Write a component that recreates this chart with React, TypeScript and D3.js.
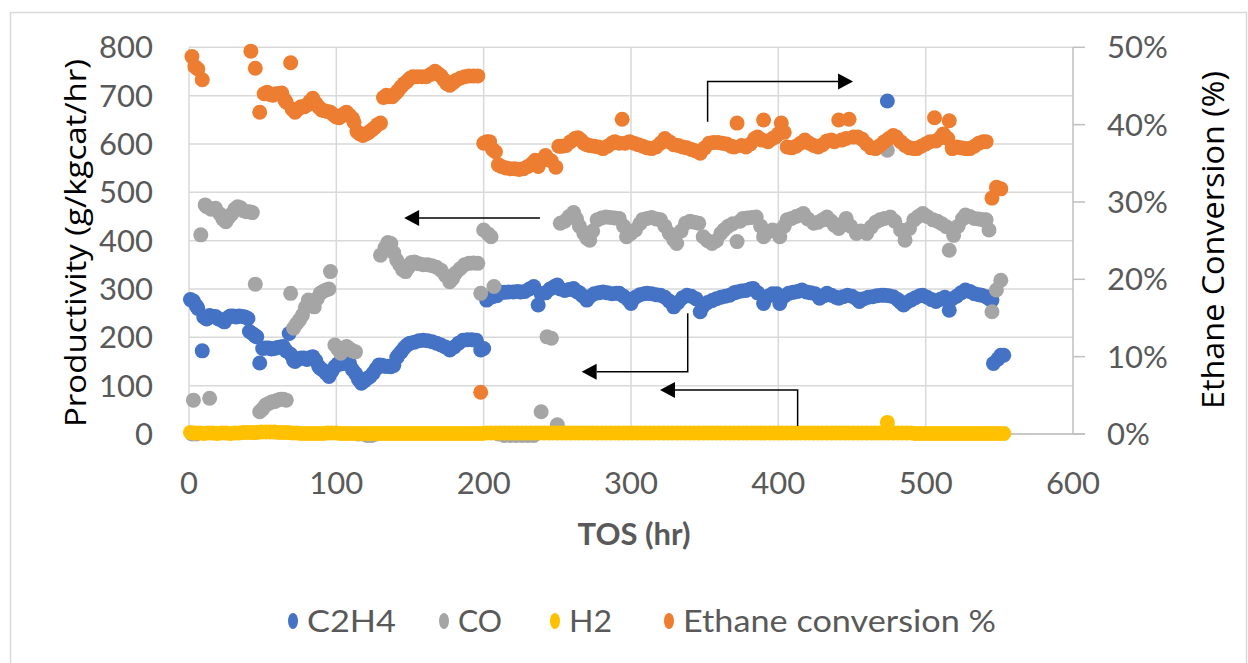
import React from "react";
import * as d3 from "d3";

const X_TICKS = [0, 100, 200, 300, 400, 500, 600];
const Y_TICKS = [0, 100, 200, 300, 400, 500, 600, 700, 800];
const Y2_TICKS = [0, 0.1, 0.2, 0.3, 0.4, 0.5];
const SERIES_NAMES = ["C2H4", "CO", "H2", "Ethane conversion %"];
const SERIES_COLORS = ["#4472C4", "#A5A5A5", "#FFC000", "#ED7D31"];

const C2H4: [number, number][] = [
  [1,278],[3,275],[5,265],[6,260],[9,172],[10,242],[12,238],[14,245],[16,243],[18,243],[20,238],[22,236],[24,232],[26,240],[28,244],[30,244],[32,242],[34,244],[36,243],[38,242],[40,239],[41,212],[43,208],[45,203],[46,201],[48,147],[50,177],[52,178],[54,178],[56,176],[58,177],[60,179],[62,180],[64,181],[66,172],[68,208],[69,165],[71,152],[72,150],[74,155],[76,157],[78,157],[80,154],[82,158],[84,160],[86,152],[88,140],[89,136],[91,132],[93,126],[95,119],[97,130],[99,139],[101,145],[103,145],[105,146],[107,147],[109,146],[111,133],[113,125],[115,113],[117,105],[119,110],[121,115],[123,119],[125,126],[127,135],[129,143],[131,142],[133,140],[135,140],[137,139],[139,142],[141,158],[142,163],[144,170],[146,178],[148,184],[150,188],[153,190],[156,193],[159,194],[162,193],[165,191],[168,188],[171,184],[174,180],[177,174],[180,180],[183,188],[186,194],[189,195],[192,195],[195,194],[198,174],
  [200,177],[202,277],[204,282],[206,284],[209,286],[211,294],[214,293],[217,294],[220,294],[223,295],[225,294],[228,295],[231,300],[234,305],[237,267],[239,290],[242,292],[245,300],[248,305],[250,308],[252,300],[255,297],[258,299],[261,301],[263,295],[265,292],[267,286],[270,277],[272,284],[275,290],[278,292],[281,294],[284,292],[287,290],[290,291],[292,291],[295,285],[298,278],[300,270],[303,283],[306,288],[309,290],[311,291],[314,290],[317,288],[320,287],[323,283],[326,275],[329,263],[332,272],[335,282],[338,287],[341,285],[344,280],[347,253],[349,265],[352,272],[355,276],[358,280],[361,283],[364,285],[367,287],[370,292],[372,294],[375,296],[378,297],[381,300],[383,301],[386,292],[390,270],[393,285],[396,290],[399,290],[401,270],[404,285],[407,291],[410,293],[413,295],[416,298],[419,294],[422,292],[425,290],[428,281],[431,286],[433,291],[436,287],[439,283],[441,281],[444,284],[447,287],[450,285],[453,280],[455,274],[458,280],[461,283],[464,284],[467,286],[470,287],[472,287],[474,689],[475,286],[478,284],[481,278],[483,272],[485,267],[487,272],[490,277],[493,282],[496,286],[498,287],[501,283],[504,278],[507,274],[510,279],[513,283],[516,256],[518,280],[521,285],[524,292],[527,298],[530,295],[533,290],[536,288],[538,287],[541,284],[543,280],[545,277],[546,146],[549,155],[551,163],[553,163]
];

const CO: [number, number][] = [
  [2,0],[3,70],[5,0],[8,412],[11,474],[12,470],[14,74],[15,465],[18,467],[21,455],[23,445],[25,439],[27,448],[29,455],[31,465],[33,470],[35,468],[37,462],[39,460],[41,460],[43,458],[45,310],[48,46],[50,52],[52,60],[54,63],[56,66],[58,67],[60,70],[62,72],[64,72],[66,70],[69,291],[71,219],[73,228],[75,236],[77,246],[79,262],[81,277],[83,268],[85,263],[87,280],[89,291],[91,295],[93,298],[95,300],[96,336],[99,184],[101,176],[103,167],[105,178],[107,181],[109,176],[111,172],[113,170],[115,0],[118,0],[121,-3],[124,-3],[127,0],[130,370],[133,385],[135,396],[137,394],[139,375],[141,360],[143,350],[145,340],[147,336],[149,345],[151,355],[153,356],[156,352],[159,350],[162,350],[165,348],[168,345],[171,339],[174,328],[177,315],[179,322],[181,333],[184,342],[187,350],[190,353],[193,354],[196,353],[198,291],[200,422],[203,414],[205,408],[207,305],[210,0],[214,-3],[218,-3],[222,-3],[226,-3],[230,-3],[234,-3],[239,46],[243,201],[246,198],[250,19],
  [252,436],[255,440],[258,450],[261,458],[263,445],[265,430],[268,415],[270,405],[272,401],[274,420],[277,443],[280,447],[283,449],[286,448],[289,447],[292,446],[295,430],[297,408],[300,415],[303,422],[306,435],[308,444],[311,446],[314,448],[317,445],[320,443],[323,430],[326,415],[329,402],[331,394],[334,420],[337,436],[340,440],[343,438],[346,436],[349,408],[352,400],[355,394],[358,400],[361,415],[363,422],[366,430],[369,435],[372,398],[374,440],[376,446],[379,447],[382,448],[385,449],[388,430],[390,408],[393,418],[396,422],[399,420],[401,408],[404,430],[406,443],[409,446],[412,450],[415,453],[417,456],[420,445],[424,436],[427,438],[430,443],[433,449],[436,440],[438,432],[441,425],[444,436],[446,446],[449,430],[453,415],[456,420],[460,415],[463,428],[466,438],[469,443],[472,446],[474,587],[476,449],[479,440],[483,422],[486,401],[489,425],[492,443],[495,450],[498,456],[501,450],[505,443],[508,440],[511,435],[514,429],[516,380],[519,411],[522,430],[525,445],[527,453],[530,450],[533,446],[536,445],[539,443],[541,443],[543,422],[545,253],[548,298],[551,318]
];

const H2: [number, number][] = [
  [1,3],[4,2],[7,2],[10,1],[13,2],[16,2],[19,1],[22,2],[25,2],[28,1],[31,2],[34,2],[37,3],[40,3],[43,3],[46,3],[49,4],[52,4],[55,4],[58,4],[61,3],[64,3],[67,3],[70,2],[73,2],[76,1],[79,1],[82,1],[85,1],[88,1],[91,1],[94,2],[97,2],[100,2],[103,1],[106,1],[109,1],[112,1],[115,1],[118,1],[121,1],[124,1],[127,1],[130,1],[133,1],[136,1],[139,1],[142,1],[145,1],[148,1],[151,1],[154,1],[157,1],[160,1],[163,1],[166,1],[169,1],[172,1],[175,1],[178,1],[181,1],[184,1],[187,1],[190,1],[193,1],[196,1],[199,1],[202,2],[205,2],[208,2],[211,2],[214,2],[217,2],[220,2],[223,2],[226,2],[229,2],[232,2],[235,2],[238,2],[241,2],[244,2],[247,2],[250,2],[253,2],[256,2],[259,2],[262,2],[265,2],[268,2],[271,2],[274,2],[277,2],[280,2],[283,2],[286,2],[289,2],[292,2],[295,2],[298,2],[301,2],[304,2],[307,2],[310,2],[313,2],[316,2],[319,2],[322,2],[325,2],[328,2],[331,2],[334,2],[337,2],[340,2],[343,2],[346,2],[349,2],[352,2],[355,2],[358,2],[361,2],[364,2],[367,2],[370,2],[373,2],[376,2],[379,2],[382,2],[385,2],[388,2],[391,2],[394,2],[397,2],[400,2],[403,2],[406,2],[409,2],[412,2],[415,2],[418,2],[421,2],[424,2],[427,2],[430,2],[433,2],[436,2],[439,2],[442,2],[445,2],[448,2],[451,2],[454,2],[457,2],[460,2],[463,2],[466,2],[469,2],[472,2],[474,24],[475,2],[478,2],[481,2],[484,2],[487,2],[490,2],[493,1],[496,1],[499,1],[502,1],[505,1],[508,1],[511,1],[514,1],[517,1],[520,1],[523,1],[526,1],[529,1],[532,1],[535,1],[538,1],[541,1],[544,1],[547,1],[550,1],[553,1]
];

const ETHANE: [number, number][] = [
  [2,48.8],[4,47.5],[6,47.2],[9,45.8],[42,49.5],[45,47.3],[48,41.6],[51,44.0],[53,44.2],[55,43.9],[57,43.8],[59,44.0],[61,44.0],[63,44.1],[65,43.2],[66,42.9],[69,48.0],[70,42.0],[72,41.6],[74,42.0],[76,42.3],[78,42.3],[80,42.5],[82,43.0],[84,43.4],[86,42.8],[88,42.3],[90,41.9],[92,41.8],[94,41.7],[96,41.6],[98,41.3],[100,41.0],[102,40.9],[104,41.2],[106,41.5],[107,41.6],[109,41.2],[111,40.8],[112,40.3],[114,39.1],[116,38.8],[118,38.6],[120,38.8],[122,39.0],[124,39.3],[126,39.6],[128,40.0],[130,40.2],[132,43.5],[134,43.8],[136,43.6],[138,43.6],[140,44.0],[142,44.4],[144,44.9],[146,45.3],[148,45.6],[150,46.0],[152,46.2],[155,46.2],[158,46.2],[161,46.2],[164,46.5],[167,46.9],[169,46.6],[171,46.3],[173,45.8],[175,45.3],[177,45.1],[179,45.4],[181,45.7],[184,46.0],[187,46.2],[190,46.3],[193,46.3],[196,46.3],[198,5.4],
  [200,37.6],[202,37.8],[204,37.8],[206,36.8],[208,36.5],[210,34.8],[212,34.6],[215,34.4],[218,34.3],[221,34.3],[224,34.2],[227,34.3],[230,34.6],[233,35.0],[235,35.4],[237,34.6],[239,35.3],[242,36.0],[244,35.5],[246,35.3],[249,34.5],[251,37.2],[253,37.2],[256,37.3],[259,37.8],[262,38.2],[264,38.3],[266,38.0],[268,37.6],[270,37.4],[272,37.3],[275,37.2],[278,37.1],[281,36.9],[284,37.2],[287,37.6],[289,37.8],[292,37.6],[294,40.7],[296,37.6],[299,37.8],[302,37.6],[305,37.4],[308,37.2],[311,37.0],[314,36.9],[317,37.1],[320,37.6],[323,38.2],[326,37.8],[329,37.4],[332,37.3],[335,37.1],[338,37.0],[341,36.8],[344,36.6],[347,36.3],[350,37.0],[353,37.6],[356,37.7],[359,37.7],[362,37.6],[365,37.5],[368,37.2],[370,37.1],[372,40.2],[375,37.3],[378,37.1],[381,37.5],[384,38.2],[386,38.4],[389,38.0],[390,40.6],[393,37.8],[396,38.2],[398,38.4],[400,38.8],[402,40.2],[404,39.0],[406,37.1],[409,37.0],[412,37.2],[415,37.6],[418,38.0],[421,37.6],[424,37.3],[427,37.1],[430,37.4],[433,37.9],[436,38.0],[438,37.8],[441,40.6],[443,38.0],[446,38.2],[448,40.7],[451,38.4],[454,38.4],[457,38.1],[460,37.5],[463,37.0],[466,36.9],[469,37.3],[472,37.8],[475,38.2],[478,38.6],[480,38.4],[483,37.8],[486,37.3],[489,37.0],[492,36.9],[494,36.9],[497,37.2],[500,37.5],[503,37.8],[506,40.9],[507,37.9],[510,38.3],[512,38.8],[515,38.2],[516,40.5],[518,36.9],[521,37.1],[524,37.0],[527,36.9],[530,36.9],[533,37.2],[536,37.6],[539,37.8],[541,37.8],[545,30.5],[548,31.9],[551,31.7]
];

// annotation arrows in data units: [[x,y] path points], last point is arrow tip
const ARROWS: [number, number][][] = [
  [[352, 646], [352, 729], [450.7, 729]],
  [[238.2, 447], [146, 447]],
  [[338.5, 250], [338.5, 129], [266.5, 129]],
  [[413.1, 16.5], [413.1, 91], [319.7, 91]],
];

const W = 1248;
const H = 663;
const M = { left: 189, right: 1073, top: 47.3, bottom: 434 };

export default function App() {
  const x = d3.scaleLinear().domain([0, 600]).range([M.left, M.right]);
  const y = d3.scaleLinear().domain([0, 800]).range([M.bottom, M.top]);
  const y2 = d3.scaleLinear().domain([0, 0.5]).range([M.bottom, M.top]);
  const tickFont = "Lato, 'Open Sans', sans-serif";
  const tickColor = "#595959";
  const grid = "#D9D9D9";
  const axisCol = "#BFBFBF";
  const r = 7.5;
  const fmtPct = d3.format(".0%");

  const series: { data: [number, number][]; color: string; sec: boolean }[] = [
    { data: C2H4, color: SERIES_COLORS[0], sec: false },
    { data: CO, color: SERIES_COLORS[1], sec: false },
    { data: H2, color: SERIES_COLORS[2], sec: false },
    { data: ETHANE, color: SERIES_COLORS[3], sec: true },
  ];

  const legendDots = [293, 444, 555, 669];
  const legendWidths = [89, 44, 43, 313];

  return (
    <svg width={W} height={H} style={{ position: "absolute", left: 0, top: 0, background: "#fff" }}>
      <rect x={10.5} y={12.5} width={1236} height={680} fill="#fff" stroke={grid} strokeWidth={1.5} />
      {/* grid */}
      {Y_TICKS.map((t) => (
        <line key={"gy" + t} x1={M.left} x2={M.right} y1={y(t)} y2={y(t)} stroke={grid} strokeWidth={1.5} />
      ))}
      {X_TICKS.map((t) => (
        <line key={"gx" + t} x1={x(t)} x2={x(t)} y1={M.top} y2={M.bottom} stroke={t === 600 ? axisCol : grid} strokeWidth={1.5} />
      ))}
      {/* axes */}
      <line x1={M.left} x2={M.right + 12} y1={M.bottom} y2={M.bottom} stroke={axisCol} strokeWidth={1.5} />
      {Y2_TICKS.map((t) => (
        <line key={"t2" + t} x1={M.right} x2={M.right + 12} y1={y2(t)} y2={y2(t)} stroke={axisCol} strokeWidth={1.5} />
      ))}
      {/* tick labels */}
      {Y_TICKS.map((t) => (
        <text key={"ly" + t} x={153} y={y(t)} dy="0.36em" textAnchor="end" fontFamily={tickFont} fontSize={31} fill={tickColor}>
          {t}
        </text>
      ))}
      {Y2_TICKS.map((t) => (
        <text key={"ly2" + t} x={1107} y={y2(t)} dy="0.36em" textAnchor="start" fontFamily={tickFont} fontSize={31} fill={tickColor}>
          {fmtPct(t)}
        </text>
      ))}
      {X_TICKS.map((t) => (
        <text key={"lx" + t} x={x(t)} y={494} textAnchor="middle" fontFamily={tickFont} fontSize={31} fill={tickColor}>
          {t}
        </text>
      ))}
      {/* axis titles */}
      <text transform={`translate(86,243) rotate(-90)`} textAnchor="middle" fontFamily="'Open Sans', sans-serif" fontSize={30} fill="#000" textLength={368} lengthAdjust="spacingAndGlyphs">
        Productivity (g/kgcat/hr)
      </text>
      <text transform={`translate(1224,240) rotate(-90)`} textAnchor="middle" fontFamily="'Open Sans', sans-serif" fontSize={31} fill="#000" textLength={338} lengthAdjust="spacingAndGlyphs">
        Ethane Conversion (%)
      </text>
      <text x={(M.left + M.right) / 2 + 3} y={545} textAnchor="middle" fontFamily={tickFont} fontSize={31} fontWeight="bold" fill={tickColor}>
        TOS (hr)
      </text>
      {/* series */}
      {series.map((s, i) => (
        <g key={"s" + i}>
          {s.data.map((d, j) => (
            <circle key={j} cx={x(d[0])} cy={s.sec ? y2(d[1] / 100) : y(d[1])} r={r} fill={s.color} />
          ))}
        </g>
      ))}
      {/* arrows */}
      {ARROWS.map((pts, i) => {
        const px = pts.map((p) => [x(p[0]), y(p[1])] as [number, number]);
        const tip = px[px.length - 1];
        const prev = px[px.length - 2];
        const dir = Math.sign(tip[0] - prev[0]);
        const baseX = tip[0] - dir * 15;
        const linePts = px.slice(0, -1).concat([[baseX, tip[1]]]);
        return (
          <g key={"a" + i}>
            <path d={d3.line()(linePts) || ""} fill="none" stroke="#000" strokeWidth={1.5} />
            <path d={`M${tip[0]},${tip[1]}L${baseX},${tip[1] - 8}L${baseX},${tip[1] + 8}Z`} fill="#000" />
          </g>
        );
      })}
      {/* legend */}
      {SERIES_NAMES.map((n, i) => (
        <g key={"lg" + i}>
          <ellipse cx={legendDots[i]} cy={621} rx={5} ry={8} fill={SERIES_COLORS[i]} />
          <text x={legendDots[i] + 14} y={621} dy="0.36em" fontFamily={tickFont} fontSize={31} fill={tickColor} textLength={legendWidths[i]} lengthAdjust="spacingAndGlyphs">
            {n}
          </text>
        </g>
      ))}
    </svg>
  );
}
